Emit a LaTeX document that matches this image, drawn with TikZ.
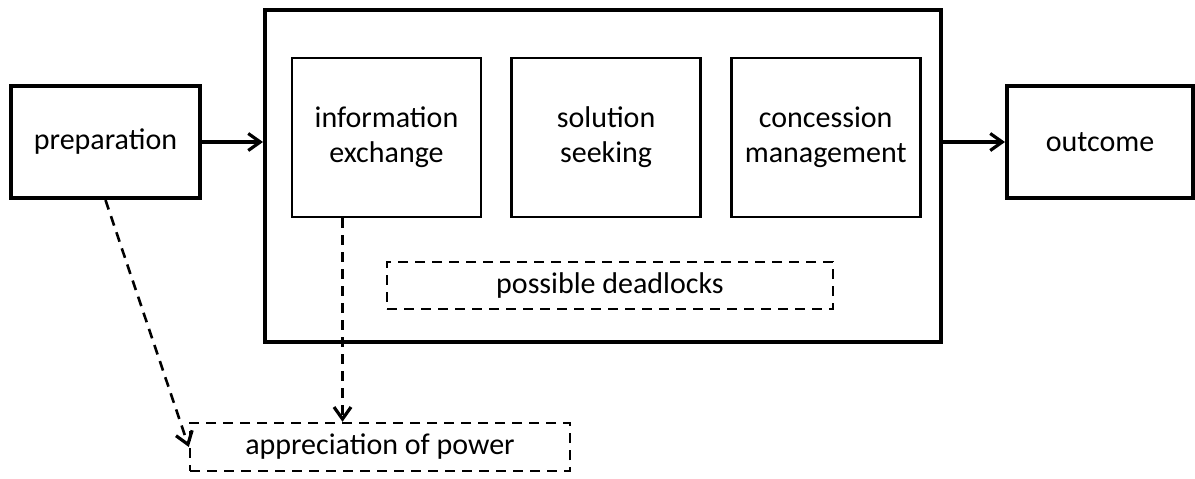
\documentclass[tikz,border=0pt]{standalone}
\usepackage{fontspec}
\setmainfont{Carlito}
\usetikzlibrary{arrows.meta,positioning}

\begin{document}
\begin{tikzpicture}[x=1pt,y=1pt,font=\fontsize{15}{17.5}\selectfont,node distance=14pt,
  >={Straight Barb[length=6pt,width=8.5pt,line width=1.6pt]},
  bx/.style={draw,line width=2pt,minimum width=94.5pt,minimum height=56pt,align=center,inner sep=0pt},
  inbx/.style={draw,line width=1.3pt,minimum width=94.5pt,minimum height=79.5pt,align=center,inner sep=0pt},
  dbx/.style={draw,line width=1.2pt,dash pattern=on 5pt off 3.5pt,minimum height=23.5pt,inner sep=0pt},
  darr/.style={->,line width=1.3pt,dash pattern=on 5pt off 3.5pt}]
\useasboundingbox (0,0) rectangle (597.5,-239);
% the negotiation stage and its phases
\node[draw,line width=2pt,minimum width=338pt,minimum height=166pt] (stage) at (301.5,-88) {};
\node[inbx] (info) at (193.25,-68.75) {information\\exchange};
\node[inbx,right=of info] (sol) {solution\\seeking};
\node[inbx,right=of sol] (conc) {concession\\management};
\node[dbx,minimum width=223pt] (dead) at (305,-142.75) {possible deadlocks};
% before and after
\node[bx] (prep) at (52.75,-71) {preparation};
\node[bx,minimum width=93pt] (out) at (550,-71) {outcome};
\node[dbx,minimum width=190pt,minimum height=24pt] (power) at (190,-223.5) {appreciation of power};
\draw[->,line width=2pt] (prep.east) -- (prep.east -| stage.west);
\draw[->,line width=2pt] (stage.east |- out.west) -- (out.west);
% dashed links to power
\coordinate (infoout) at ([xshift=-22pt]info.south);
\draw[darr] (infoout) -- (infoout |- power.north);
\draw[darr] (prep.south) -- (power.west);
\end{tikzpicture}
\end{document}
